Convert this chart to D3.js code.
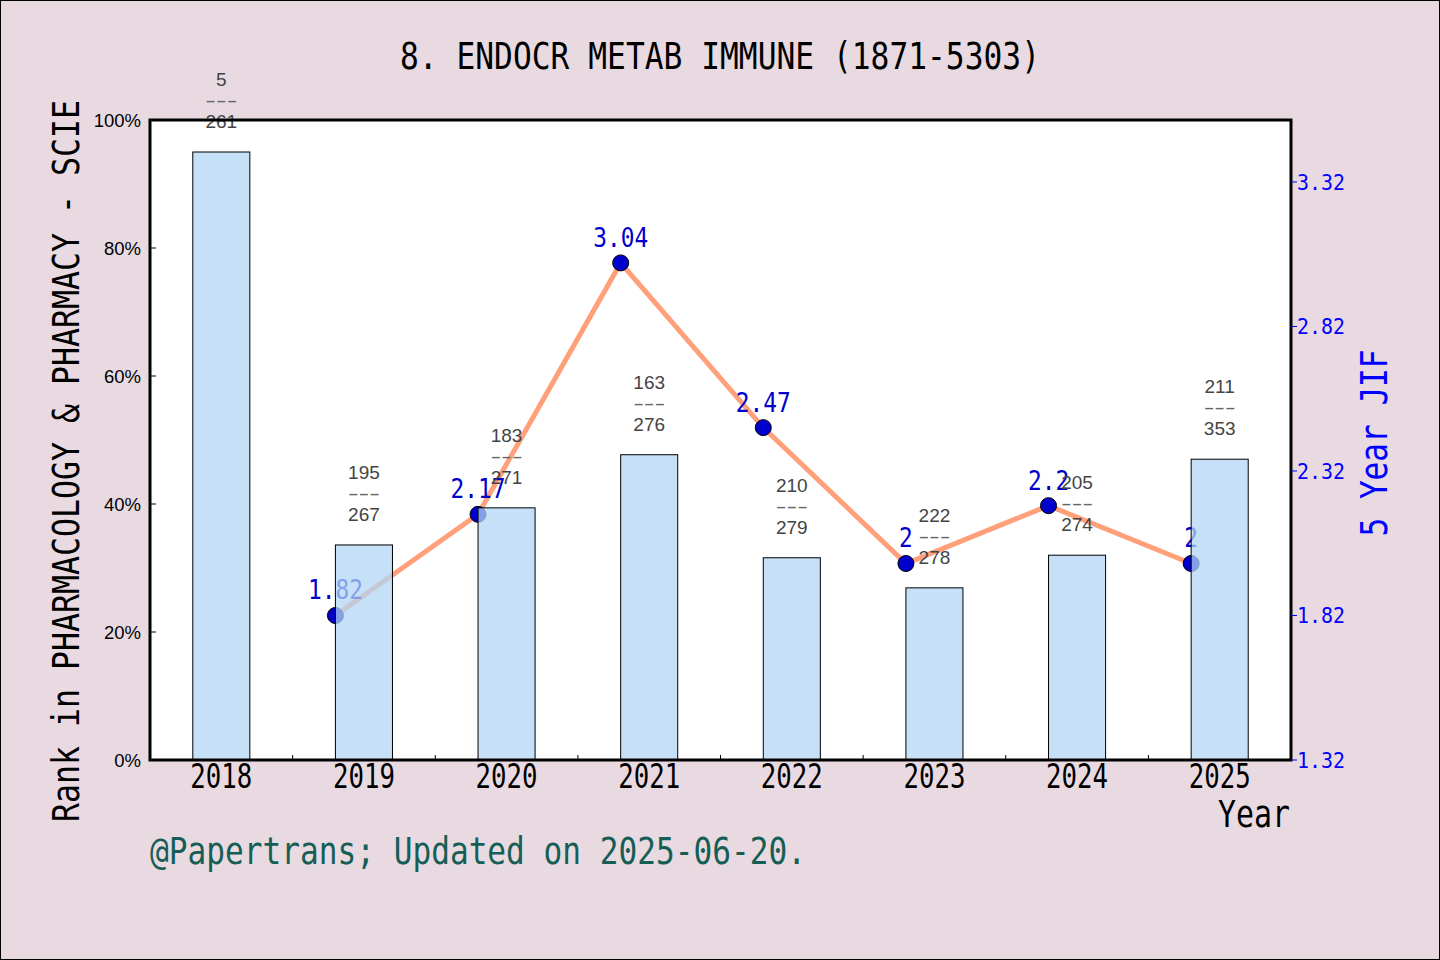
<!DOCTYPE html>
<html lang="en">
<head>
<meta charset="utf-8">
<title>8. ENDOCR METAB IMMUNE</title>
<script src="https://d3js.org/d3.v7.min.js"></script>
<style>
    body { margin: 0; background: #e9dae2; }
    svg { display: block; }
</style>
</head>
<body>
<svg id="chart" width="1440" height="960"></svg>
<script>
// data
var years = ["2018", "2019", "2020", "2021", "2022", "2023", "2024", "2025"];
var rankShare = [0.95, 0.336, 0.394, 0.477, 0.316, 0.269, 0.320, 0.470];
var rankNum = [5, 195, 183, 163, 210, 222, 205, 211];
var rankTotal = [261, 267, 271, 276, 279, 278, 274, 353];
var jifYears = ["2019", "2020", "2021", "2022", "2023", "2024", "2025"];
var jif = [1.82, 2.17, 3.04, 2.47, 2, 2.2, 2];
var pctTicks = [0, 0.2, 0.4, 0.6, 0.8, 1];
var jifTicks = [1.32, 1.82, 2.32, 2.82, 3.32];

var mono = "'DejaVu Sans Mono', monospace";
var sans = "'Liberation Sans', Arial, sans-serif";

// plot box (note: "top" is taken by window.top)
var pL = 150, pR = 1291, pT = 120, pB = 760;

var svg = d3.select("#chart");
svg.append("rect")
    .attr("x", 0.5).attr("y", 0.5)
    .attr("width", 1439).attr("height", 959)
    .attr("fill", "#e9dae2")
    .attr("stroke", "black");

var x = d3.scaleBand().domain(years).range([pL, pR]).paddingInner(0.6).paddingOuter(0.3);
var y = d3.scaleLinear().domain([0, 1]).range([pB, pT]);
var y2 = d3.scaleLinear().domain([1.32, 3.5345]).range([pB, pT]);

// plot background
svg.append("rect")
    .attr("x", pL).attr("y", pT)
    .attr("width", pR - pL).attr("height", pB - pT)
    .attr("fill", "white");

// condensed mono text helper
function mtext(g, str, size, width) {
    return g.append("text")
        .text(str)
        .style("font-family", mono)
        .style("font-size", size + "px")
        .attr("textLength", width)
        .attr("lengthAdjust", "spacingAndGlyphs");
}

// JIF line
var lineG = svg.append("g");
var line = d3.line()
    .x(function (d, i) { return x(jifYears[i]); })
    .y(function (d) { return y2(d); });

lineG.append("path")
    .datum(jif)
    .attr("d", line)
    .attr("fill", "none")
    .attr("stroke", "#ffa07a")
    .attr("stroke-width", 5);

lineG.selectAll("circle")
    .data(jif)
    .enter().append("circle")
    .attr("cx", function (d, i) { return x(jifYears[i]); })
    .attr("cy", function (d) { return y2(d); })
    .attr("r", 8)
    .attr("fill", "#0000cc")
    .attr("stroke", "black")
    .attr("stroke-width", 1);

jif.forEach(function (d, i) {
    var s = String(d);
    mtext(lineG, s, 26, 13.75 * s.length)
        .attr("x", x(jifYears[i]))
        .attr("y", y2(d) - 16)
        .attr("text-anchor", "middle")
        .attr("fill", "#0000cc");
});

// bars (semi transparent, drawn over the line)
svg.append("g").selectAll("rect")
    .data(rankShare)
    .enter().append("rect")
    .attr("x", function (d, i) { return x(years[i]); })
    .attr("y", function (d) { return y(d); })
    .attr("width", x.bandwidth())
    .attr("height", function (d) { return y(0) - y(d); })
    .attr("fill", "rgb(178,214,244)")
    .attr("fill-opacity", 0.75)
    .attr("stroke", "black")
    .attr("stroke-width", 1);

// rank labels above bars
var labG = svg.append("g").attr("fill", "#444");
rankShare.forEach(function (d, i) {
    var cx = x(years[i]) + x.bandwidth() / 2;
    var ty = y(d);
    labG.append("text").text(rankNum[i])
        .attr("x", cx).attr("y", ty - 66)
        .attr("text-anchor", "middle")
        .style("font-family", sans).style("font-size", "19px");
    labG.append("text").text("---")
        .attr("x", cx).attr("y", ty - 45)
        .attr("text-anchor", "middle")
        .attr("textLength", 32).attr("lengthAdjust", "spacingAndGlyphs")
        .attr("fill", "#666")
        .style("font-family", sans).style("font-size", "19px");
    labG.append("text").text(rankTotal[i])
        .attr("x", cx).attr("y", ty - 24)
        .attr("text-anchor", "middle")
        .style("font-family", sans).style("font-size", "19px");
});

// frame
svg.append("rect")
    .attr("x", pL).attr("y", pT)
    .attr("width", pR - pL).attr("height", pB - pT)
    .attr("fill", "none")
    .attr("stroke", "black")
    .attr("stroke-width", 3);

// x axis: ticks between categories, labels centered
var step = x.step();
for (var k = 1; k < years.length; k++) {
    svg.append("line")
        .attr("x1", pL + step * k).attr("x2", pL + step * k)
        .attr("y1", pB).attr("y2", pB - 5)
        .attr("stroke", "black");
}
years.forEach(function (yr) {
    mtext(svg, yr, 33, 62)
        .attr("x", x(yr) + x.bandwidth() / 2)
        .attr("y", pB + 28)
        .attr("text-anchor", "middle")
        .attr("fill", "black");
});

// left axis
var fmtPct = d3.format(".0%");
pctTicks.forEach(function (t) {
    svg.append("line")
        .attr("x1", pL).attr("x2", pL + 6)
        .attr("y1", y(t)).attr("y2", y(t))
        .attr("stroke", "black");
    svg.append("text")
        .text(fmtPct(t))
        .attr("x", pL - 9)
        .attr("y", y(t) + 7)
        .attr("text-anchor", "end")
        .attr("fill", "black")
        .style("font-family", sans)
        .style("font-size", "18.5px");
});

// right axis
jifTicks.forEach(function (t) {
    svg.append("line")
        .attr("x1", pR).attr("x2", pR + 6)
        .attr("y1", y2(t)).attr("y2", y2(t))
        .attr("stroke", "blue");
    mtext(svg, t.toFixed(2), 21, 48)
        .attr("x", pR + 6)
        .attr("y", y2(t) + 8)
        .attr("fill", "blue");
});

// titles
mtext(svg, "8. ENDOCR METAB IMMUNE (1871-5303)", 37, 640)
    .attr("x", 720).attr("y", 69)
    .attr("text-anchor", "middle")
    .attr("fill", "black");

mtext(svg, "Rank in PHARMACOLOGY & PHARMACY - SCIE", 37, 722)
    .attr("transform", "translate(79,461) rotate(-90)")
    .attr("text-anchor", "middle")
    .attr("fill", "black");

mtext(svg, "5 Year JIF", 37, 187)
    .attr("transform", "translate(1387,443) rotate(-90)")
    .attr("text-anchor", "middle")
    .attr("fill", "blue");

mtext(svg, "Year", 37, 72)
    .attr("x", 1290).attr("y", 827)
    .attr("text-anchor", "end")
    .attr("fill", "black");

mtext(svg, "@Papertrans; Updated on 2025-06-20.", 37, 656)
    .attr("x", 150).attr("y", 864)
    .attr("fill", "#155e55");
</script>
</body>
</html>
